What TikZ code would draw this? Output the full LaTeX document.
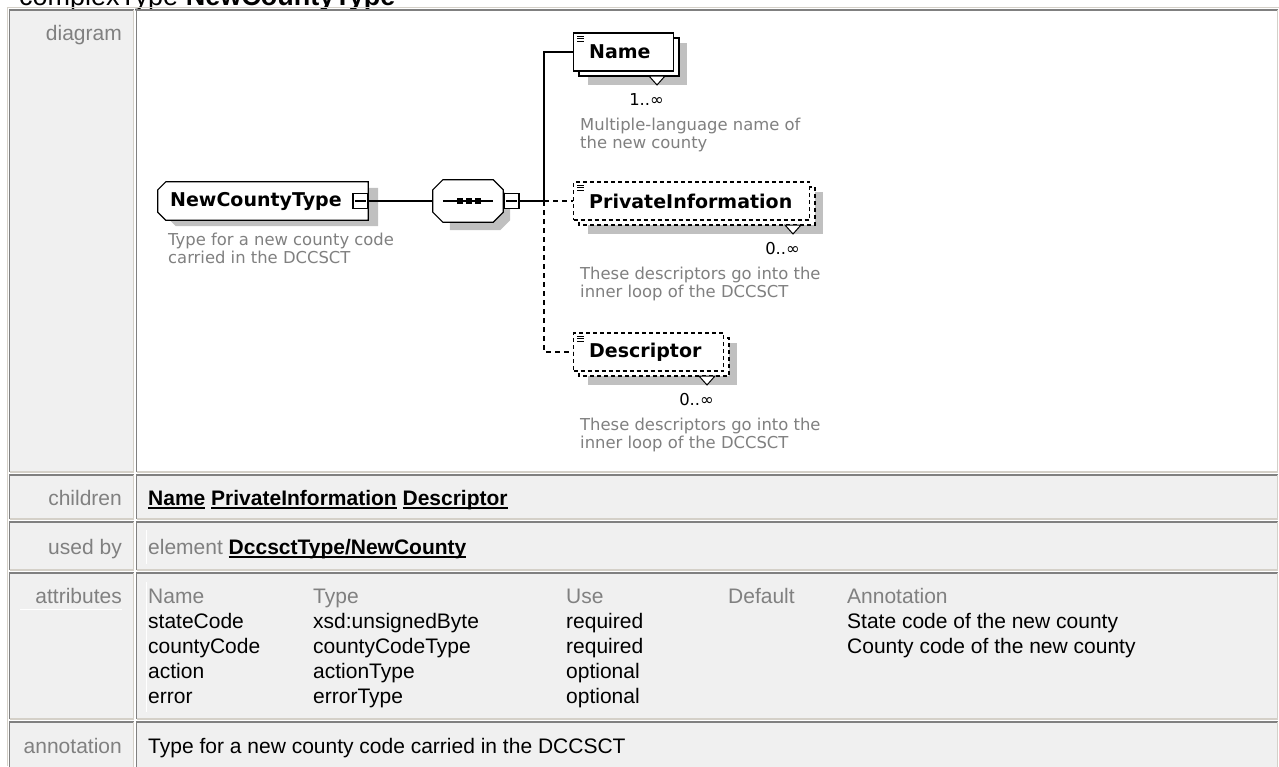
\documentclass[tikz,border=0pt]{standalone}
\usepackage{fontspec}
\setmainfont{Liberation Sans}
\newfontfamily\diagfont{DejaVu Sans}
\usetikzlibrary{calc}

\definecolor{cellbg}{HTML}{F0F0F0}
\definecolor{edgedark}{HTML}{808080}
\definecolor{edgelight}{HTML}{D4D0C8}
\definecolor{labelgray}{HTML}{808080}
\definecolor{shadowgray}{HTML}{C0C0C0}

% underlined link text
\newcommand{\ulink}[1]{\setbox0\hbox{#1}\rlap{\rule[-3.5pt]{\wd0}{1.6pt}}\box0\relax}

% table cell with inset 3D border: x1,y1,x2,y2,fill
\newcommand{\tabcell}[5]{%
  \fill[#5] (#1,#2) rectangle (#3,#4);
  \draw[edgedark, line width=1.6pt] (#1,#4) -- (#1,#2) -- (#3,#2);
  \draw[edgelight, line width=1.6pt] (#3,#2) -- (#3,#4) -- (#1,#4);
}

% schema element with repeated (stacked) box:
% #1 name, #2 left x, #3 centre y, #4 width, #5 label, #6 line style
\newcommand{\xsdelem}[6]{%
  \fill[shadowgray] (#2+15,#3-9) rectangle (#2+#4+14,#3+33);
  \draw[boxline, #6, fill=white] (#2+6,#3-14) rectangle (#2+#4+6,#3+24);
  \node[boxline, #6, draw, fill=white, minimum width=#4pt, minimum height=38pt,
        inner sep=0pt, anchor=west] (#1) at (#2,#3) {};
  \draw[line width=0.9pt] (#2+4,#3-16) -- ++(7,0)
        (#2+4,#3-13.5) -- ++(7,0) (#2+4,#3-11) -- ++(7,0);
  \node[elemlabel, anchor=west] (#1-label) at (#2+16,#3) {#5};
  \filldraw[fill=white, draw=black, line width=1pt]
        (#2+#4-24,#3+24) -- (#2+#4-8,#3+24) -- (#2+#4-16,#3+33) -- cycle;
}

\tikzset{
  boxline/.style={line width=1.2pt},
  dashedline/.style={dash pattern=on 4pt off 3pt},
  solidline/.style={},
  tabtext/.style={font=\fontsize{21}{24}\selectfont, inner sep=0pt},
  tablabel/.style={tabtext, text=labelgray, anchor=base east},
  elemlabel/.style={font=\diagfont\bfseries\fontsize{19}{22}\selectfont, inner sep=0pt},
  desc/.style={font=\diagfont\fontsize{16.4}{18}\selectfont, text=labelgray, inner sep=0pt, anchor=base west},
  mult/.style={font=\diagfont\fontsize{16.4}{18}\selectfont, inner sep=0pt, anchor=base east},
  expander/.style={draw, fill=white, line width=1.1pt, minimum size=15pt, inner sep=0pt},
  conn/.style={line width=1.2pt},
  optconn/.style={line width=1.2pt, dash pattern=on 5pt off 4pt},
  innerrule/.style={white, line width=1pt},
}

\begin{document}
\begin{tikzpicture}[x=1pt, y=-1pt]
\useasboundingbox (0,0) rectangle (1279,766);
\fill[white] (0,0) rectangle (1279,766);

% heading above the table
\node[anchor=base west, font=\fontsize{27}{31}\selectfont, inner sep=0pt] (title)
  at (19,5) {complexType \textbf{NewCountyType}};

% ---------- table frame ----------
\draw[edgelight, line width=1.6pt] (7.5,766) -- (7.5,7.5) -- (1279,7.5);
\tabcell{9.5}{10}{133.5}{472}{cellbg}
\tabcell{136.5}{10}{1277.5}{472}{white}
\tabcell{9.5}{475}{133.5}{519}{cellbg}
\tabcell{136.5}{475}{1277.5}{519}{cellbg}
\tabcell{9.5}{522}{133.5}{570}{cellbg}
\tabcell{136.5}{522}{1277.5}{570}{cellbg}
\tabcell{9.5}{573}{133.5}{719}{cellbg}
\tabcell{136.5}{573}{1277.5}{719}{cellbg}
\tabcell{9.5}{722}{133.5}{790}{cellbg}
\tabcell{136.5}{722}{1277.5}{790}{cellbg}

% faint rules of the nested attribute / usage tables
\draw[innerrule] (146,530) -- (146,564);
\draw[innerrule] (146,582) -- (146,712);
\draw[innerrule] (20,609) -- (122,609);

% row labels
\node[tablabel] (lab-diagram) at (122,40) {diagram};
\node[tablabel] (lab-children) at (122,505) {children};
\node[tablabel] (lab-usedby) at (122,554) {used by};
\node[tablabel] (lab-attributes) at (122,603) {attributes};
\node[tablabel] (lab-annotation) at (122,753) {annotation};

% ---------- diagram ----------
% complex type box
\node[minimum width=210pt, minimum height=38pt, inner sep=0pt] (nct) at (263,201) {};
\fill[shadowgray] ($(nct.north west)+(18,6)$) -- ($(nct.north east)+(10,6)$)
  -- ($(nct.south east)+(10,6)$) -- ($(nct.south west)+(18,6)$) -- ($(nct.south west)+(10,-2)$)
  -- ($(nct.north west)+(10,14)$) -- cycle;
\draw[boxline, fill=white] ($(nct.north west)+(8,0)$) -- (nct.north east) -- (nct.south east)
  -- ($(nct.south west)+(8,0)$) -- ($(nct.south west)+(0,-8)$) -- ($(nct.north west)+(0,8)$) -- cycle;
\node[elemlabel, anchor=west] (nct-label) at (170,201) {NewCountyType};
\node[expander] (nct-exp) at (360.5,201) {};
\draw[line width=1.1pt] ($(nct-exp.west)+(3,0)$) -- ($(nct-exp.east)+(-3,0)$);

% sequence compositor
\node[minimum width=70pt, minimum height=42pt, inner sep=0pt] (seq) at (468,201) {};
\fill[shadowgray] ($(seq.north west)+(17,8)$) -- ($(seq.north east)+(-3,8)$)
  -- ($(seq.north east)+(7,18)$) -- ($(seq.south east)+(7,-2)$) -- ($(seq.south east)+(-3,8)$)
  -- ($(seq.south west)+(17,8)$) -- cycle;
\draw[boxline, fill=white] ($(seq.north west)+(10,0)$) -- ($(seq.north east)+(-10,0)$)
  -- ($(seq.north east)+(0,10)$) -- ($(seq.south east)+(0,-10)$) -- ($(seq.south east)+(-10,0)$)
  -- ($(seq.south west)+(10,0)$) -- ($(seq.south west)+(0,-10)$) -- ($(seq.north west)+(0,10)$) -- cycle;
\draw[line width=1.1pt] ($(seq.west)+(10,0)$) -- ($(seq.east)+(-10,0)$);
\foreach \dx in {-8,1,10} {
  \fill ($(seq.center)+(\dx-3,-3)$) rectangle ($(seq.center)+(\dx+3,3)$);
}
\node[expander] (seq-exp) at (511.5,201) {};
\draw[line width=1.1pt] ($(seq-exp.west)+(3,0)$) -- ($(seq-exp.east)+(-3,0)$);

% child elements
\xsdelem{name}{573}{52}{100}{Name}{solidline}
\xsdelem{privinfo}{573}{201}{236}{PrivateInformation}{dashedline}
\xsdelem{descr}{573}{352}{150}{Descriptor}{dashedline}

% occurrence ranges
\node[mult] (name-mult) at (664,105) {1..∞};
\node[mult] (privinfo-mult) at (800,254) {0..∞};
\node[mult] (descr-mult) at (714,405) {0..∞};

% documentation texts
\node[desc] (nct-desc1) at (168,245) {Type for a new county code};
\node[desc] (nct-desc2) at (168,263) {carried in the DCCSCT};
\node[desc] (name-desc1) at (580,130) {Multiple-language name of};
\node[desc] (name-desc2) at (580,148) {the new county};
\node[desc] (privinfo-desc1) at (580,279) {These descriptors go into the};
\node[desc] (privinfo-desc2) at (580,297) {inner loop of the DCCSCT};
\node[desc] (descr-desc1) at (580,430) {These descriptors go into the};
\node[desc] (descr-desc2) at (580,448) {inner loop of the DCCSCT};

% connectors
\coordinate (fork) at (544,201);
\draw[conn] (nct-exp.east) -- (seq.west);
\draw[conn] (seq-exp.east) -- (fork);
\draw[conn] (fork) |- (name.west);
\draw[optconn] (fork) -- (privinfo.west);
\draw[optconn] (fork) |- (descr.west);

% ---------- children / used by ----------
\node[tabtext, anchor=base west] (children) at (148,505)
  {\bfseries\ulink{Name} \ulink{PrivateInformation} \ulink{Descriptor}};
\node[tabtext, anchor=base west] (usedby) at (148,554)
  {\textcolor{labelgray}{element} \textbf{\ulink{DccsctType/NewCounty}}};

% ---------- attributes ----------
\foreach \txt [count=\i] in {Name,Type,Use,Default,Annotation} {
  \pgfmathsetmacro{\colx}{{148,313,566,728,847}[\i-1]}
  \node[tabtext, text=labelgray, anchor=base west] (attr-head-\i) at (\colx,603) {\txt};
}
\node[tabtext, anchor=base west] (a1n) at (148,628) {stateCode};
\node[tabtext, anchor=base west] (a1t) at (313,628) {xsd:unsignedByte};
\node[tabtext, anchor=base west] (a1u) at (566,628) {required};
\node[tabtext, anchor=base west] (a1a) at (847,628) {State code of the new county};
\node[tabtext, anchor=base west] (a2n) at (148,653) {countyCode};
\node[tabtext, anchor=base west] (a2t) at (313,653) {countyCodeType};
\node[tabtext, anchor=base west] (a2u) at (566,653) {required};
\node[tabtext, anchor=base west] (a2a) at (847,653) {County code of the new county};
\node[tabtext, anchor=base west] (a3n) at (148,678) {action};
\node[tabtext, anchor=base west] (a3t) at (313,678) {actionType};
\node[tabtext, anchor=base west] (a3u) at (566,678) {optional};
\node[tabtext, anchor=base west] (a4n) at (148,703) {error};
\node[tabtext, anchor=base west] (a4t) at (313,703) {errorType};
\node[tabtext, anchor=base west] (a4u) at (566,703) {optional};

% ---------- annotation ----------
\node[tabtext, anchor=base west] (annotation) at (148,753)
  {Type for a new county code carried in the DCCSCT};
\end{tikzpicture}
\end{document}
